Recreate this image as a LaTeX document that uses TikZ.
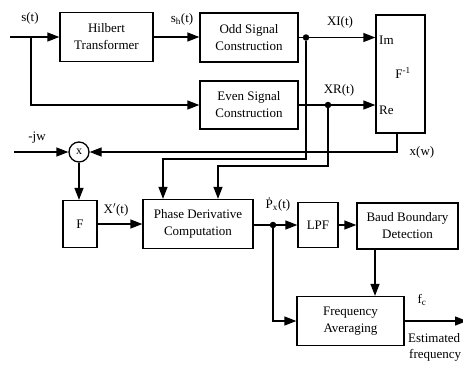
\documentclass[tikz,border=0pt]{standalone}
\usepackage{fontspec}
\setmainfont{Liberation Serif}
\usetikzlibrary{arrows.meta}
\begin{document}
\begin{tikzpicture}[x=1pt,y=-1pt,
 every node/.style={font=\fontsize{13}{17}\selectfont, inner sep=0pt},
 blk/.style={draw, line width=1.3pt, align=center},
 conn/.style={line width=1.3pt},
 arr/.style={conn,-{Triangle[length=12pt,width=9pt]}},
 dot/.style={circle, fill, minimum size=6.5pt, inner sep=0pt}]
\clip (0,0) rectangle (463,365);
% blocks
\node[blk,minimum width=93pt,minimum height=49pt] (hil) at (106.5,37) {Hilbert\\Transformer};
\node[blk,minimum width=98pt,minimum height=49pt] (odd) at (249,37.5) {Odd Signal\\Construction};
\node[blk,minimum width=98pt,minimum height=48pt] (even) at (249,105) {Even Signal\\Construction};
\node[blk,minimum width=49pt,minimum height=118pt] (finv) at (400.5,74) {};
\node[draw,circle,line width=1.3pt,minimum size=20pt,font=\fontsize{12}{12}\selectfont] (mult) at (79,152) {x};
\node[blk,minimum width=34pt,minimum height=47pt] (fbox) at (80,224) {F};
\node[blk,minimum width=110pt,minimum height=49pt] (phase) at (198,224) {Phase Derivative\\Computation};
\node[blk,minimum width=40pt,minimum height=45pt] (lpf) at (318,225) {LPF};
\node[blk,minimum width=101pt,minimum height=46pt] (baud) at (407.5,226) {Baud Boundary\\Detection};
\node[blk,minimum width=107pt,minimum height=49pt] (favg) at (350.5,321) {Frequency\\Averaging};
% connectors
\coordinate (in1) at (10,37);
\coordinate (br) at (31,37);
\draw[arr] (in1) -- (hil.west);
\draw[arr] (br) |- (even.west);
\draw[arr] (hil.east) -- (hil.east -| odd.west);
\node[dot] (d1) at (306,37.5) {};
\draw[conn] (odd.east) -- (d1);
\draw[arr] (d1) -- (d1 -| finv.west);
\node[dot] (d2) at (328,105) {};
\draw[conn] (even.east) -- (d2);
\draw[arr] (d2) -- (d2 -| finv.west);
\coordinate (xw) at (397,152);
\draw[arr] (xw |- finv.south) -- (xw) -- (mult.east);
\coordinate (jw) at (14,152);
\draw[arr] (jw) -- (mult.west);
\draw[arr] (mult.south) -- (mult.south |- fbox.north);
\draw[arr] (fbox.east) -- (phase.west);
\coordinate (c1) at (163,159);
\draw[arr] (d1) |- (c1) -- (c1 |- phase.north);
\coordinate (c2) at (218,166);
\draw[arr] (d2) |- (c2) -- (c2 |- phase.north);
\node[dot] (d3) at (273,225) {};
\draw[conn] (phase.east |- d3) -- (d3);
\draw[arr] (d3) -- (lpf.west);
\draw[arr] (lpf.east) -- (lpf.east -| baud.west);
\draw[arr] (baud.south -| 375,0) -- (favg.north -| 375,0);
\draw[arr] (d3) |- (favg.west);
\coordinate (out) at (467,321);
\draw[arr] (favg.east) -- (out);
% labels
\node at (30,18) {s(t)};
\node at (182,19) {s\textsubscript{h}(t)};
\node at (340,22) {XI(t)};
\node at (339,90) {XR(t)};
\node[anchor=west] at (379,40) {Im};
\node[anchor=west] at (379,110) {Re};
\node at (403,73) {F\textsuperscript{-1}};
\node at (422,152) {x(w)};
\node at (37,138) {-jw};
\node at (116,210) {X$'$(t)};
\node at (278,205) {\.{P}\textsubscript{x}(t)};
\node at (422,300) {f\textsubscript{c}};
\node[anchor=west] at (408,338) {Estimated};
\node[anchor=west] at (409,355) {frequency};
\end{tikzpicture}
\end{document}
